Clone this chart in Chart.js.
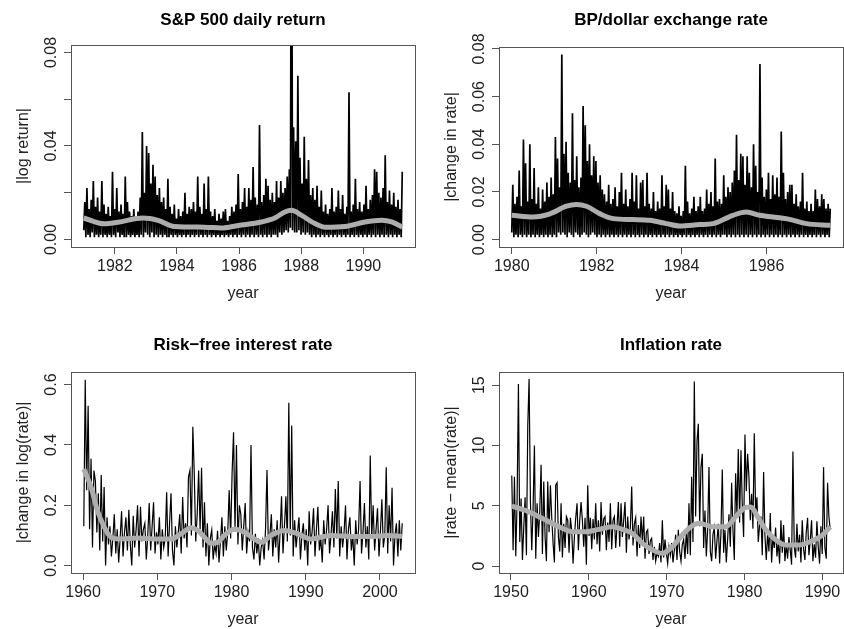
<!DOCTYPE html>
<html>
<head>
<meta charset="utf-8">
<script src="https://cdn.jsdelivr.net/npm/chart.js@4.4.1/dist/chart.umd.min.js"></script>
<style>
  html, body { margin: 0; padding: 0; background: #fff; }
  #wrap { position: relative; width: 844px; height: 629px; }
  .panel { position: absolute; }
  .panel canvas { display: block; }
</style>
</head>
<body>
<div id="wrap">
  <div class="panel" style="left:0;top:0"><canvas id="spChart" width="422" height="314"></canvas></div>
  <div class="panel" style="left:422px;top:0"><canvas id="bpChart" width="422" height="314"></canvas></div>
  <div class="panel" style="left:0;top:314px"><canvas id="rfChart" width="422" height="315"></canvas></div>
  <div class="panel" style="left:422px;top:314px"><canvas id="infChart" width="422" height="315"></canvas></div>
</div>
<script>
// S&P 500 |daily log return|, 1981 - 1991.25 (thinned)
const spStart = 1981.0, spEnd = 1991.25;
const spAbsReturn = [
  .004,.016,.001,.022,.002,.013,.001,.017,.003,.025,.001,.014,.002,.018,.001,.012,.002,.025,.001,.015,
  .002,.011,.001,.014,.002,.010,.001,.029,.002,.013,.001,.022,.003,.012,.001,.015,.002,.011,.001,.027,
  .001,.016,.002,.012,.001,.010,.002,.013,.001,.009,.002,.012,.001,.018,.002,.046,.001,.020,.003,.040,
  .002,.037,.001,.024,.003,.032,.001,.027,.002,.019,.001,.022,.002,.016,.001,.018,.002,.013,.001,.026,
  .001,.014,.002,.011,.001,.015,.002,.009,.001,.013,.002,.010,.001,.012,.002,.020,.001,.011,.002,.014,
  .001,.013,.002,.016,.001,.012,.002,.027,.001,.014,.002,.011,.001,.024,.002,.013,.001,.027,.002,.012,
  .001,.010,.002,.013,.001,.008,.002,.011,.001,.009,.002,.012,.001,.013,.002,.008,.001,.010,.002,.014,
  .001,.012,.002,.015,.001,.028,.002,.013,.001,.016,.002,.022,.001,.014,.002,.022,.001,.017,.002,.031,
  .001,.018,.002,.015,.001,.049,.002,.016,.001,.019,.002,.026,.001,.023,.002,.017,.001,.020,.002,.016,
  .002,.025,.001,.018,.003,.025,.002,.020,.003,.022,.004,.027,.003,.030,.005,.200,.004,.048,.003,.042,
  .003,.070,.004,.035,.002,.024,.003,.044,.002,.026,.003,.034,.002,.019,.001,.022,.002,.017,.001,.023,
  .002,.014,.001,.021,.002,.012,.001,.015,.002,.011,.001,.013,.002,.022,.001,.012,.002,.014,.001,.021,
  .002,.013,.001,.019,.002,.011,.001,.014,.002,.063,.001,.012,.002,.015,.001,.026,.002,.013,.001,.016,
  .002,.012,.001,.015,.002,.023,.001,.013,.002,.017,.001,.019,.002,.030,.001,.029,.002,.020,.001,.018,
  .002,.022,.001,.036,.002,.016,.001,.021,.002,.015,.001,.020,.002,.014,.001,.017,.002,.013,.001,.029
];
const spSmoothYear = [1981.0,1981.66,1982.1,1982.9,1983.39,1983.92,1984.89,1985.43,1985.97,1986.72,1987.15,1987.47,1987.69,1988.01,1988.44,1988.76,1989.41,1990.05,1990.59,1990.91,1991.25];
const spSmoothVal  = [.0092,.0067,.0074,.0092,.0082,.0056,.0053,.0049,.0060,.0075,.0092,.0118,.0125,.0103,.0068,.0053,.0056,.0075,.0082,.0075,.0053];
const spXTicks = [1982, 1984, 1986, 1988, 1990];
const spYTicks = [0, .02, .04, .06, .08];
const spYLabels = ['0.00', '0.04', '0.08'];

// BP/dollar |change in rate|, 1980 - 1987.5
const bpStart = 1980.0, bpEnd = 1987.5;
const bpAbsChange = [
  .003,.023,.001,.015,.002,.018,.001,.029,.002,.014,.001,.042,.002,.032,.001,.016,.002,.040,.001,.017,
  .002,.030,.001,.015,.002,.022,.001,.013,.002,.021,.001,.016,.002,.024,.001,.018,.002,.026,.001,.019,
  .002,.043,.001,.034,.003,.022,.002,.0777,.003,.036,.002,.041,.001,.028,.003,.024,.002,.053,.001,.025,
  .003,.035,.002,.022,.001,.026,.002,.056,.003,.048,.002,.033,.001,.040,.002,.027,.003,.035,.002,.033,
  .001,.024,.002,.027,.001,.021,.002,.019,.001,.016,.002,.023,.001,.015,.002,.017,.001,.022,.002,.014,
  .001,.020,.002,.028,.001,.015,.002,.021,.001,.014,.002,.017,.001,.028,.002,.016,.001,.027,.002,.013,
  .001,.024,.002,.025,.001,.014,.002,.028,.001,.015,.002,.013,.001,.020,.002,.012,.001,.016,.002,.013,
  .001,.027,.002,.014,.001,.023,.002,.021,.001,.013,.002,.020,.001,.012,.002,.011,.001,.014,.002,.010,
  .001,.012,.002,.031,.001,.016,.002,.011,.001,.013,.002,.018,.001,.012,.002,.014,.001,.018,.002,.012,
  .001,.013,.002,.021,.001,.015,.002,.020,.001,.014,.002,.034,.001,.016,.002,.017,.001,.015,.002,.027,
  .002,.018,.001,.022,.002,.020,.001,.024,.002,.029,.001,.044,.002,.025,.001,.036,.002,.035,.001,.023,
  .002,.035,.001,.028,.002,.022,.001,.040,.002,.031,.001,.020,.002,.0737,.001,.026,.002,.018,.001,.021,
  .002,.028,.001,.017,.002,.027,.001,.019,.002,.026,.001,.018,.002,.0454,.001,.028,.002,.017,.001,.020,
  .002,.023,.001,.023,.002,.015,.001,.019,.002,.014,.001,.016,.002,.028,.001,.013,.002,.016,.001,.012,
  .002,.015,.001,.012,.002,.021,.001,.017,.002,.014,.001,.019,.002,.017,.001,.013,.002,.015,.001,.013
];
const bpSmoothYear = [1980.0,1980.5,1980.9,1981.29,1981.52,1981.76,1982.07,1982.39,1982.86,1983.25,1983.64,1983.96,1984.43,1984.74,1985.21,1985.52,1985.84,1986.15,1986.54,1986.94,1987.5];
const bpSmoothVal  = [.0102,.0095,.0108,.0140,.0147,.0140,.0109,.0088,.0084,.0081,.0067,.0057,.0063,.0067,.0102,.0116,.0102,.0095,.0085,.0067,.0060];
const bpXTicks = [1980, 1982, 1984, 1986];
const bpYTicks = [0, .02, .04, .06, .08];
const bpYLabels = ['0.00', '0.02', '0.04', '0.06', '0.08'];

// risk-free rate |change in log(rate)|, 1960.1 - 2003
const rfStart = 1960.1, rfEnd = 2003.0;
const rfAbsChange = [
  .13,.616,.25,.53,.12,.354,.06,.315,.28,.11,.24,.05,.30,.08,.26,0,.16,.07,.13,.03,
  .09,.17,.04,.12,.01,.09,.18,.03,.11,.16,.05,.185,.07,0,.165,.06,.12,.20,.03,.195,
  .08,.12,.14,.02,.10,.207,.05,.13,.21,.04,.11,.07,.16,.02,.12,.06,.09,.243,.03,.14,
  .24,.05,0,.13,.06,.11,.17,.04,.227,.09,.14,.06,.293,.315,.10,.46,.30,.08,.17,.315,
  .12,.324,.06,.21,.03,.14,0,.09,.118,.02,.07,.04,.115,.01,.08,.16,.03,.13,.05,.11,
  .25,.09,.306,.442,.12,.40,.07,.20,.17,.05,.13,.207,.04,.11,.08,.40,.06,.02,.105,.04,
  .09,0,.06,.083,.02,.12,.317,.05,.10,.17,.03,.12,.06,.15,.01,.11,.23,.04,.13,.23,
  .08,.54,.10,.464,.03,.15,.06,.11,.16,.02,.10,.14,.05,.12,0,.18,.07,.11,.19,.03,
  .12,.195,.05,.09,.01,.15,.07,.12,.20,.04,.10,.18,.06,.254,.09,.28,.03,.13,.06,.11,
  .20,.02,.12,.16,.05,.10,0,.15,.07,.12,.28,.04,.11,.207,.06,.13,.02,.365,.09,.20,
  .05,.12,.19,.03,.11,.22,.06,.10,.326,.04,.20,.08,.258,0,.10,.14,.03,.15,.05,.14
];
const rfSmoothYear = [1960.1,1961.08,1961.97,1962.87,1963.77,1965.12,1967.36,1969.61,1971.86,1973.2,1974.55,1975.45,1976.35,1977.25,1978.15,1979.05,1980.39,1981.74,1983.09,1983.99,1985.33,1987.13,1988.93,1990.72,1993.42,1996.56,1998.81,2001.06,2003.0];
const rfSmoothVal  = [.32,.26,.18,.127,.094,.088,.091,.088,.088,.105,.125,.116,.094,.074,.077,.10,.12,.11,.088,.077,.10,.116,.105,.088,.10,.096,.096,.10,.097];
const rfXTicks = [1960, 1970, 1980, 1990, 2000];
const rfYTicks = [0, .2, .4, .6];
const rfYLabels = ['0.0', '0.2', '0.4', '0.6'];

// inflation |rate - mean(rate)|, 1950.1 - 1991
const infStart = 1950.1, infEnd = 1991.0;
const infAbsDev = [
  7.5,1.3,7.4,.8,5.3,15.1,2.0,5.6,.5,3.2,5.7,.9,11.6,15.5,5.3,1.3,4.8,10.0,.6,5.2,
  2.4,4.5,8.4,1.0,7.0,2.4,.4,7.0,2.8,6.7,4.0,1.9,.3,6.7,6.9,2.4,1.2,5.2,.7,3.5,
  1.5,4.1,3.8,1.1,4.0,2.9,.2,2.4,4.0,5.2,1.3,3.8,5.3,3.8,1.6,4.0,.1,6.7,2.5,4.0,
  1.4,3.9,2.2,5.2,1.8,3.8,1.2,5.3,2.6,3.9,4.1,1.3,3.6,2.0,5.2,1.4,3.8,4.1,1.5,3.3,
  5.3,1.6,5.2,2.4,3.8,5.3,1.1,4.1,2.2,3.2,6.6,1.7,3.5,4.0,.8,3.4,1.5,4.1,2.0,4.1,
  .6,2.8,3.0,1.0,2.1,2.3,.5,1.6,.4,1.05,.8,1.9,.3,3.8,.7,2.2,1.1,.2,1.6,.9,
  1.9,.3,1.3,2.6,.5,3.0,1.2,.4,1.8,2.2,.6,2.9,1.0,5.2,.9,7.4,2.0,15.3,4.1,10.3,
  11.8,3.3,8.2,9.3,1.5,4.6,.8,3.0,8.2,1.2,.4,2.6,3.2,.6,2.1,3.5,.2,2.8,8.0,1.1,
  3.0,.3,2.2,4.3,1.6,6.9,3.0,.5,7.7,4.2,9.7,3.6,9.6,5.0,2.4,10.9,6.2,9.3,7.4,3.8,
  6.0,3.1,11.0,4.4,5.7,2.0,3.4,4.1,.9,7.8,2.5,.5,2.7,1.2,4.4,.3,2.4,1.5,3.2,.8,
  2.0,.2,3.8,1.1,3.4,.4,1.8,.6,2.4,1.3,.1,9.5,1.6,.7,3.5,1.2,2.6,.3,3.8,1.4,
  .5,2.8,4.0,.9,2.1,3.8,.4,1.8,.7,3.7,1.6,.2,3.3,1.0,8.2,1.5,.6,6.9,4.1,3.0
];
const infSmoothYear = [1950.1,1951.9,1954.03,1956.17,1957.89,1959.6,1961.31,1963.03,1964.31,1965.6,1966.88,1968.17,1969.45,1970.74,1971.81,1973.1,1974.17,1975.88,1977.59,1978.88,1980.16,1980.81,1981.66,1982.74,1984.02,1985.31,1987.02,1988.73,1990.02,1991.0];
const infSmoothVal  = [4.97,4.6,3.95,3.26,2.85,2.85,3.04,3.26,3.04,2.7,1.88,1.33,1.05,1.6,2.43,3.26,3.54,3.26,3.26,4.1,4.86,4.9,4.1,3.0,2.16,1.74,1.74,2.1,2.57,3.26];
const infXTicks = [1950, 1960, 1970, 1980, 1990];
const infYTicks = [0, 5, 10, 15];
const infYLabels = ['0', '5', '10', '15'];

const FONT = '"Liberation Sans", Arial, Helvetica, sans-serif';

// R-style frame: box, rotated y tick labels, axis titles, main title
const rFrame = {
    id: 'rFrame',
    afterDraw(chart, args, o) {
        const { ctx, chartArea: a } = chart;
        const y = chart.scales.y;
        ctx.save();
        ctx.strokeStyle = '#555';
        ctx.lineWidth = 1;
        ctx.strokeRect(Math.round(a.left) + 0.5, Math.round(a.top) + 0.5,
            Math.round(a.right - a.left), Math.round(a.bottom - a.top));

        ctx.fillStyle = '#222';
        ctx.font = '16px ' + FONT;
        ctx.textAlign = 'center';
        ctx.textBaseline = 'alphabetic';
        o.yLabels.forEach(t => {
            ctx.save();
            ctx.translate(a.left - 15.5, y.getPixelForValue(parseFloat(t)));
            ctx.rotate(-Math.PI / 2);
            ctx.fillText(t, 0, 0);
            ctx.restore();
        });

        ctx.save();
        ctx.translate(a.left - 43, (a.top + a.bottom) / 2);
        ctx.rotate(-Math.PI / 2);
        ctx.fillText(o.yTitle, 0, 0);
        ctx.restore();

        ctx.fillText('year', (a.left + a.right) / 2, a.bottom + 51);

        ctx.fillStyle = '#000';
        ctx.font = 'bold 17px ' + FONT;
        ctx.fillText(o.title, (a.left + a.right) / 2, o.titleY);
        ctx.restore();
    }
};

function makePanel(id, p) {
    const canvas = document.getElementById(id);
    const n = p.vals.length;
    const series = p.vals.map((v, i) => ({ x: p.start + i * (p.end - p.start) / (n - 1), y: v }));
    const smooth = p.smYear.map((x, i) => ({ x: x, y: p.smVal[i] }));

    return new Chart(canvas, {
        type: 'line',
        data: {
            datasets: [
                { data: smooth, borderColor: '#adadad', borderWidth: 5, pointRadius: 0, cubicInterpolationMode: 'monotone' },
                { data: series, borderColor: '#000000', borderWidth: p.lw, pointRadius: 0, tension: 0 }
            ]
        },
        options: {
            responsive: false,
            animation: false,
            devicePixelRatio: 1,
            events: [],
            layout: { padding: { left: 0, top: p.box.top, right: canvas.width - p.box.right, bottom: 0 } },
            plugins: {
                legend: { display: false },
                tooltip: { enabled: false },
                rFrame: { title: p.title, titleY: p.titleY, yTitle: p.yTitle, yLabels: p.yLabels }
            },
            scales: {
                x: {
                    type: 'linear',
                    min: p.xMin, max: p.xMax,
                    afterBuildTicks: s => { s.ticks = p.xTicks.map(v => ({ value: v })); },
                    afterFit: s => { s.height = canvas.height - p.box.bottom; },
                    grid: { drawOnChartArea: false, tickLength: 7, color: '#555' },
                    border: { display: false },
                    ticks: {
                        color: '#222', padding: 3, maxRotation: 0, autoSkip: false,
                        font: { family: FONT, size: 16 },
                        callback: v => String(v)
                    }
                },
                y: {
                    type: 'linear',
                    min: p.yMin, max: p.yMax,
                    afterBuildTicks: s => { s.ticks = p.yTicks.map(v => ({ value: v })); },
                    afterFit: s => { s.width = p.box.left; },
                    grid: { drawOnChartArea: false, tickLength: 7, color: '#555' },
                    border: { display: false },
                    ticks: { display: false }
                }
            }
        },
        plugins: [rFrame]
    });
}

makePanel('spChart', {
    vals: spAbsReturn, start: spStart, end: spEnd, smYear: spSmoothYear, smVal: spSmoothVal,
    xMin: 1980.59, xMax: 1991.66, yMin: -0.0032, yMax: 0.0832,
    xTicks: spXTicks, yTicks: spYTicks, yLabels: spYLabels, lw: 1.7,
    box: { left: 71, right: 415, top: 45, bottom: 247 }, titleY: 25,
    title: 'S&P 500 daily return', yTitle: '|log return|'
});

makePanel('bpChart', {
    vals: bpAbsChange, start: bpStart, end: bpEnd, smYear: bpSmoothYear, smVal: bpSmoothVal,
    xMin: 1979.7, xMax: 1987.8, yMin: -0.0031, yMax: 0.0808,
    xTicks: bpXTicks, yTicks: bpYTicks, yLabels: bpYLabels, lw: 1.7,
    box: { left: 77, right: 421, top: 47, bottom: 247 }, titleY: 25,
    title: 'BP/dollar exchange rate', yTitle: '|change in rate|'
});

makePanel('rfChart', {
    vals: rfAbsChange, start: rfStart, end: rfEnd, smYear: rfSmoothYear, smVal: rfSmoothVal,
    xMin: 1958.38, xMax: 2004.72, yMin: -0.0247, yMax: 0.6417,
    xTicks: rfXTicks, yTicks: rfYTicks, yLabels: rfYLabels, lw: 1.2,
    box: { left: 71, right: 415, top: 58, bottom: 259 }, titleY: 36,
    title: 'Risk\u2212free interest rate', yTitle: '|change in log(rate)|'
});

makePanel('infChart', {
    vals: infAbsDev, start: infStart, end: infEnd, smYear: infSmoothYear, smVal: infSmoothVal,
    xMin: 1948.46, xMax: 1992.64, yMin: -0.58, yMax: 16.09,
    xTicks: infXTicks, yTicks: infYTicks, yLabels: infYLabels, lw: 1.2,
    box: { left: 77, right: 421, top: 58, bottom: 259 }, titleY: 36,
    title: 'Inflation rate', yTitle: '|rate \u2212 mean(rate)|'
});
</script>
</body>
</html>
